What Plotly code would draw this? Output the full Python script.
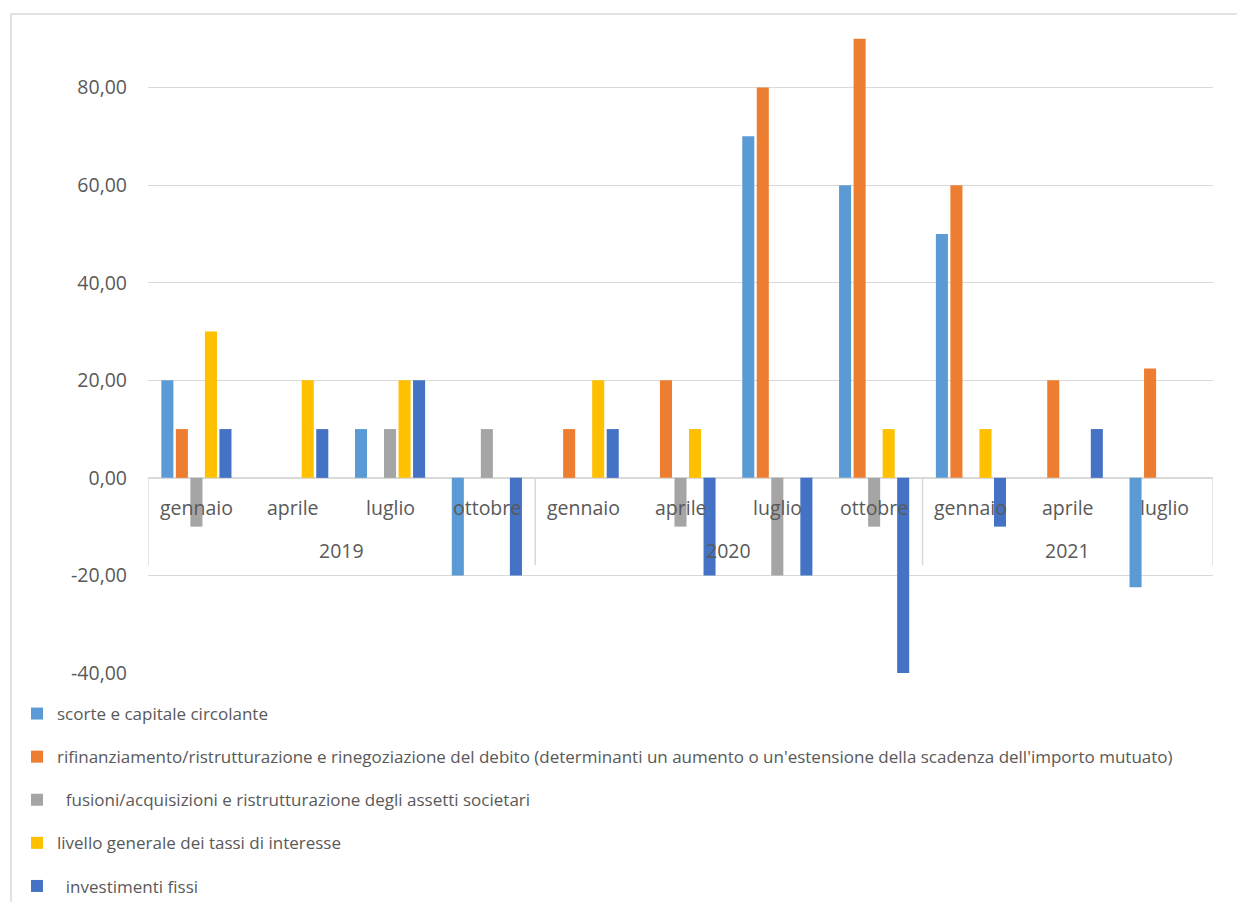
import plotly.graph_objects as go

# Quarterly survey periods (month, year)
years = ["2019", "2019", "2019", "2019", "2020", "2020", "2020", "2020", "2021", "2021", "2021"]
months = ["gennaio", "aprile", "luglio", "ottobre",
          "gennaio", "aprile", "luglio", "ottobre",
          "gennaio", "aprile", "luglio"]

series_names = [
    "scorte e capitale circolante",
    "rifinanziamento/ristrutturazione e rinegoziazione del debito (determinanti un aumento o un'estensione della scadenza dell'importo mutuato)",
    "\u00a0\u00a0fusioni/acquisizioni e ristrutturazione degli assetti societari",
    "livello generale dei tassi di interesse",
    "\u00a0\u00a0investimenti fissi",
]

scorte = [20, 0, 10, -20, 0, 0, 70, 60, 50, 0, -22.4]
rifinanziamento = [10, 0, 0, 0, 10, 20, 80, 90, 60, 20, 22.4]
fusioni = [-10, 0, 10, 10, 0, -10, -20, -10, 0, 0, 0]
tassi = [30, 20, 20, 0, 20, 10, 0, 10, 10, 0, 0]
investimenti = [10, 10, 20, -20, 10, -20, -20, -40, -10, 10, 0]

colors = ["#5B9BD5", "#ED7D31", "#A5A5A5", "#FFC000", "#4472C4"]

y_ticks = [-40, -20, 0, 20, 40, 60, 80]
y_tick_labels = ["-40,00", "-20,00", "0,00", "20,00", "40,00", "60,00", "80,00"]

W, H = 1237, 902
L, R, T, B = 148, 24, 30, 229  # plot area: x 148..1213, y 30..673

x_pos = list(range(len(months)))
TEXT = "#595959"
GRID = "#D9D9D9"
AXIS_FONT = dict(family="Open Sans", size=19.5, color=TEXT)

fig = go.Figure()
for i, (name, vals) in enumerate(zip(series_names,
                                     [scorte, rifinanziamento, fusioni, tassi, investimenti])):
    fig.add_trace(go.Bar(
        x=x_pos, y=vals, name=name,
        marker=dict(color=colors[i], line=dict(width=0)),
        legendgroup=f"g{i}",
    ))

# Month and year labels of the two-level category axis, drawn at the zero line
annotations = []
for xi, m in zip(x_pos, months):
    annotations.append(dict(x=xi, y=-6, xref="x", yref="y", text=m, showarrow=False,
                            font=AXIS_FONT))
year_groups = {}
for xi, yv in zip(x_pos, years):
    year_groups.setdefault(yv, []).append(xi)
for yv, xs in year_groups.items():
    annotations.append(dict(x=(xs[0] + xs[-1]) / 2, y=-14.8, xref="x", yref="y", text=yv,
                            showarrow=False, font=AXIS_FONT))

# Dividers between year groups on the category axis
shapes = []
bounds = [-0.5]
for yv, xs in year_groups.items():
    bounds.append(xs[-1] + 0.5)
for b in bounds:
    shapes.append(dict(type="line", xref="x", yref="y", x0=b, x1=b, y0=0, y1=-17.9,
                       line=dict(color=GRID, width=1.5)))

# Chart frame
pw = W - L - R
ph = H - T - B
shapes.append(dict(type="rect", xref="paper", yref="paper",
                   x0=(11 - L) / pw, x1=(W + 20 - L) / pw,
                   y0=(H - B - (H + 20)) / ph, y1=(H - B - 14) / ph,
                   line=dict(color="#D9D9D9", width=1.5), fillcolor="rgba(0,0,0,0)",
                   layer="below"))

fig.update_layout(
    width=W, height=H,
    margin=dict(l=L, r=R, t=T, b=B, autoexpand=False),
    paper_bgcolor="white", plot_bgcolor="white",
    barmode="group", bargap=0.25, bargroupgap=0.17,
    font=dict(family="Open Sans", color=TEXT),
    xaxis=dict(range=[-0.5, len(months) - 0.5], showticklabels=False, showgrid=False,
               zeroline=False, showline=False, ticks=""),
    yaxis=dict(range=[-40, 91.8], tickvals=y_ticks, ticktext=y_tick_labels,
               showgrid=True, gridcolor=GRID, gridwidth=1.3,
               zeroline=True, zerolinecolor=GRID, zerolinewidth=1.5,
               showline=False, ticks="", ticklabelstandoff=20,
               tickfont=AXIS_FONT),
    legend=dict(xref="container", yref="container", x=17 / W, y=1 - 696 / H,
                xanchor="left", yanchor="top", orientation="v",
                traceorder="grouped", tracegroupgap=18,
                font=dict(family="Open Sans", size=17, color=TEXT),
                bgcolor="rgba(0,0,0,0)"),
    annotations=annotations,
    shapes=shapes,
)

fig.write_html("out.html")
